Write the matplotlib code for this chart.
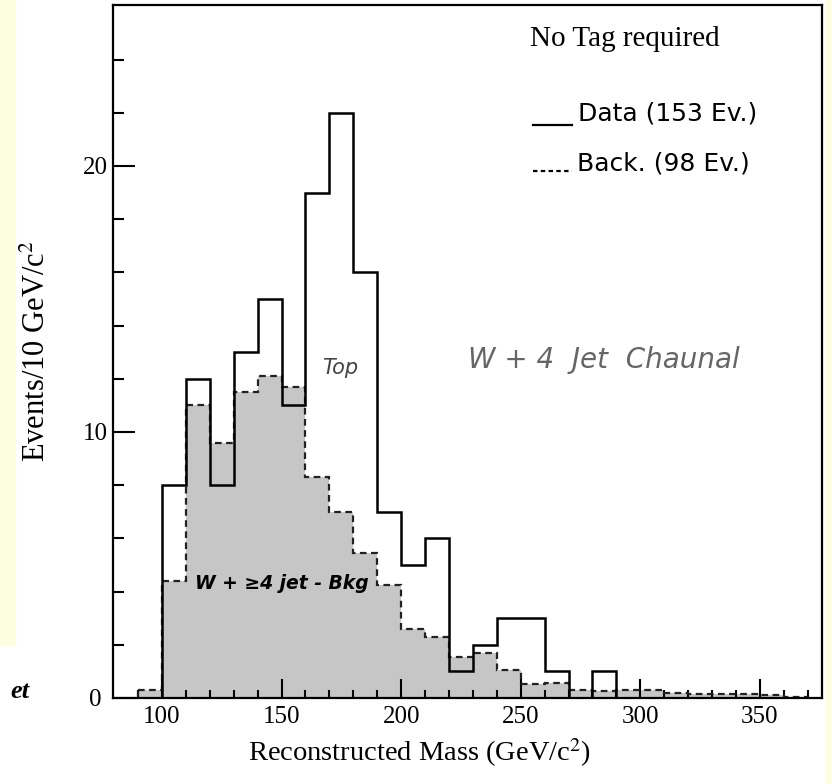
"""
W + 4 jet channel: reconstructed mass, data vs. background (no tag required).
Recreated from a scanned figure.
"""

import matplotlib
matplotlib.use("Agg")
import matplotlib.pyplot as plt
import numpy as np
from matplotlib.patches import Rectangle

# bin edges, 10 GeV/c^2 wide
edges = np.arange(90, 380, 10)

# data (153 events)
data_counts = [0, 8, 12, 8, 13, 15, 11, 19, 22, 16, 7, 5, 6, 1, 2, 3, 3, 1, 0, 1,
               0, 0, 0, 0, 0, 0, 0, 0]

# background estimate (98 events)
back_counts = [0.3, 4.4, 11.0, 9.6, 11.5, 12.1, 11.7, 8.3, 7.0, 5.45, 4.25, 2.6,
               2.3, 1.55, 1.7, 1.05, 0.53, 0.56, 0.3, 0.25, 0.3, 0.3, 0.2, 0.15,
               0.15, 0.15, 0.1, 0.05]

x_major = [100, 150, 200, 250, 300, 350]
y_major = [0, 10, 20]

SERIF = "Liberation Serif"
SANS = "DejaVu Sans"


def main():
    plt.rcParams["mathtext.fontset"] = "stix"

    fig = plt.figure(figsize=(8.32, 7.84), dpi=100)
    ax = fig.add_axes([113 / 832, 1 - 698 / 784, 709 / 832, 693 / 784])

    # yellow page strips from the scan
    yellow = "#fdfde2"
    fig.patches.append(Rectangle((0, 1 - 645 / 784), 15 / 832, 645 / 784,
                                 transform=fig.transFigure, color=yellow, zorder=0))
    fig.patches.append(Rectangle((826 / 832, 0), 6 / 832, 1,
                                 transform=fig.transFigure, color=yellow, zorder=0))

    # background: grey fill plus dashed outline
    ax.stairs(back_counts, edges, fill=True, color="#c6c6c6", zorder=1)
    ax.stairs(back_counts, edges, baseline=None, color="#222222", linewidth=1.6,
              linestyle=(0, (3, 2)), zorder=2)
    ax.plot([edges[0], edges[0]], [0, back_counts[0]], color="#222222",
            linewidth=1.6, linestyle=(0, (3, 2)), zorder=2)

    # data histogram
    ax.stairs(data_counts, edges, color="black", linewidth=1.8, zorder=3)

    ax.set_xlim(79.5, 376)
    ax.set_ylim(0, 26.05)

    ax.set_xticks(x_major)
    ax.set_xticks(np.arange(90, 380, 10), minor=True)
    ax.set_yticks(y_major)
    ax.set_yticks(np.arange(2, 26, 2), minor=True)
    ax.tick_params(which="both", direction="in", width=1.5, top=False, right=False)
    ax.tick_params(axis="x", which="major", length=14, pad=6, labelsize=18)
    ax.tick_params(axis="x", which="minor", length=6)
    ax.tick_params(axis="y", which="major", length=16, pad=13, labelsize=18)
    ax.tick_params(axis="y", which="minor", length=8)
    for lab in ax.get_xticklabels():
        lab.set_fontfamily(SERIF)
    for lab in ax.get_yticklabels():
        lab.set_fontfamily(SERIF)
        lab.set_horizontalalignment("center")
    for sp in ax.spines.values():
        sp.set_linewidth(1.6)

    ax.set_xlabel("Reconstructed Mass (GeV/c$^2$)", fontsize=20.5, family=SERIF)
    ax.set_ylabel("Events/10 GeV/c$^2$", fontsize=22, family=SERIF)
    ax.xaxis.set_label_coords((420 - 113) / 709, (698 - 736) / 693)
    ax.yaxis.set_label_coords((52 - 113) / 709, 0.5)

    # legend, drawn by hand as in the original
    ax.text((530 - 113) / 709, (698 - 39) / 693, "No Tag required",
            transform=ax.transAxes, fontsize=21, family=SERIF, va="center")
    ax.plot([(533 - 113) / 709, (572 - 113) / 709], [(698 - 125) / 693] * 2,
            transform=ax.transAxes, color="black", linewidth=1.6)
    ax.text((578 - 113) / 709, (698 - 114) / 693, "Data (153 Ev.)",
            transform=ax.transAxes, fontsize=18, family=SANS, va="center")
    ax.plot([(533 - 113) / 709, (572 - 113) / 709], [(698 - 171) / 693] * 2,
            transform=ax.transAxes, color="black", linewidth=1.6,
            linestyle=(0, (2, 1.5)))
    ax.text((577 - 113) / 709, (698 - 163) / 693, "Back. (98 Ev.)",
            transform=ax.transAxes, fontsize=18, family=SANS, va="center")

    # handwritten notes
    ax.text(174.4, 12.4, "Top", fontsize=15, style="italic", color="#444444",
            family="DejaVu Sans", ha="center", va="center")
    ax.text(228, 12.7, "W + 4  Jet  Chaunal", fontsize=20, color="#666666",
            family="DejaVu Sans", style="italic", fontweight="light", va="center")
    ax.text(114, 4.3, "W + ≥4 jet - Bkg", fontsize=13.5, color="black",
            family="DejaVu Sans", fontweight="bold", style="italic", va="center")

    # stray text from the scanned page
    fig.text(10 / 832, 1 - 692 / 784, "et", fontsize=19, family=SERIF,
             fontweight="bold", style="italic", va="center")

    fig.savefig("out.png", dpi=100)
    plt.close(fig)


if __name__ == "__main__":
    main()
